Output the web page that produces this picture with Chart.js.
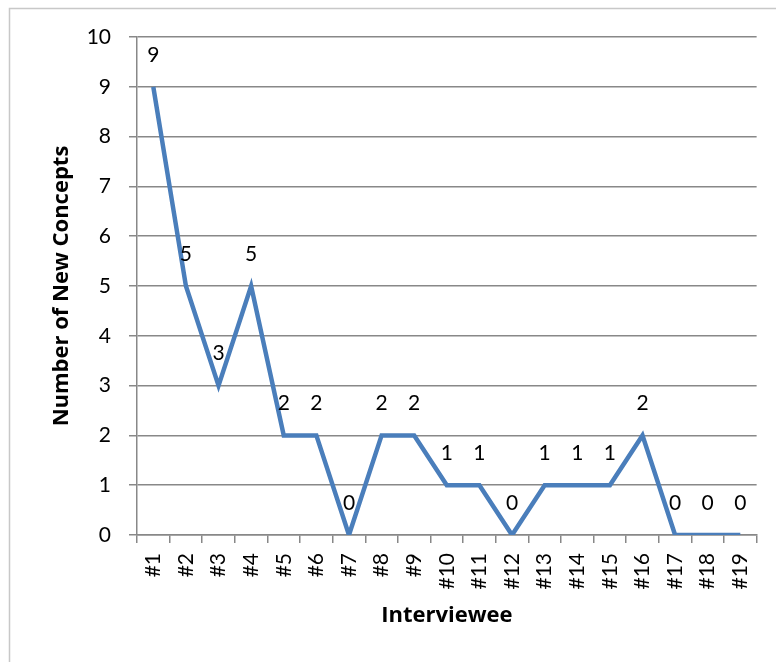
<!DOCTYPE html>
<html>
<head>
<meta charset="utf-8">
<style>
  html, body { margin: 0; padding: 0; background: #fff; overflow: hidden; }
  #wrap { position: relative; width: 776px; height: 662px; }
</style>
<script src="https://cdn.jsdelivr.net/npm/chart.js@4/dist/chart.umd.min.js"></script>
</head>
<body>
<div id="wrap"><canvas id="c" width="776" height="662"></canvas></div>
<script>
// Interviewees and the number of new concepts each one added
const interviewees = ['#1','#2','#3','#4','#5','#6','#7','#8','#9','#10',
                      '#11','#12','#13','#14','#15','#16','#17','#18','#19'];
const newConcepts = [9, 5, 3, 5, 2, 2, 0, 2, 2, 1, 1, 0, 1, 1, 1, 2, 0, 0, 0];
const yTicks = [0, 1, 2, 3, 4, 5, 6, 7, 8, 9, 10];

const FONT = 'Lato, "Open Sans", sans-serif';
const TITLE_FONT = '"Open Sans", Lato, sans-serif';
const GRID = '#888888';

// Thin frame around the whole chart
const framePlugin = {
  id: 'frame',
  beforeDraw(chart) {
    const ctx = chart.ctx;
    ctx.save();
    ctx.strokeStyle = '#c8c8c8';
    ctx.lineWidth = 1.5;
    ctx.strokeRect(9.5, 8.5, 900, 800);
    ctx.restore();
  }
};

// Value labels above each point
const valueLabels = {
  id: 'valueLabels',
  afterDatasetsDraw(chart) {
    const ctx = chart.ctx;
    const meta = chart.getDatasetMeta(0);
    ctx.save();
    ctx.font = '21px ' + FONT;
    ctx.fillStyle = '#000';
    ctx.textAlign = 'center';
    ctx.textBaseline = 'middle';
    meta.data.forEach((pt, i) => {
      ctx.fillText(String(newConcepts[i]), pt.x, pt.y - 32);
    });
    ctx.restore();
  }
};

new Chart(document.getElementById('c'), {
  type: 'line',
  data: {
    labels: interviewees,
    datasets: [{
      data: newConcepts,
      borderColor: '#4a7ebb',
      borderWidth: 4.5,
      pointRadius: 0,
      tension: 0,
      fill: false
    }]
  },
  options: {
    responsive: false,
    animation: false,
    layout: { padding: { left: 49, top: 37, right: 18, bottom: 33 } },
    plugins: { legend: { display: false }, tooltip: { enabled: false } },
    scales: {
      x: {
        offset: true,
        grid: {
          offset: true,
          drawOnChartArea: false,
          drawTicks: true,
          tickLength: 8,
          color: GRID,
          lineWidth: 1.5
        },
        border: { display: true, color: GRID, width: 1.5 },
        ticks: {
          color: '#000',
          font: { family: FONT, size: 21 },
          minRotation: 90,
          maxRotation: 90,
          padding: 10,
          autoSkip: false
        },
        title: {
          display: true,
          text: 'Interviewee',
          color: '#000',
          font: { family: TITLE_FONT, size: 22, weight: 'bold' },
          padding: 0
        },
        afterFit(scale) { scale.height = 94; }
      },
      y: {
        min: 0,
        max: 10,
        afterBuildTicks(scale) { scale.ticks = yTicks.map(v => ({ value: v })); },
        grid: {
          color: GRID,
          lineWidth: 1.5,
          drawTicks: true,
          tickLength: 8
        },
        border: { display: true, color: GRID, width: 1.5 },
        ticks: {
          color: '#000',
          font: { family: FONT, size: 21 },
          padding: 18
        },
        title: {
          display: true,
          text: 'Number of New Concepts',
          color: '#000',
          font: { family: TITLE_FONT, size: 22, weight: 'bold' },
          padding: 0
        },
        afterFit(scale) { scale.width = 88; }
      }
    }
  },
  plugins: [framePlugin, valueLabels]
});
</script>
</body>
</html>
